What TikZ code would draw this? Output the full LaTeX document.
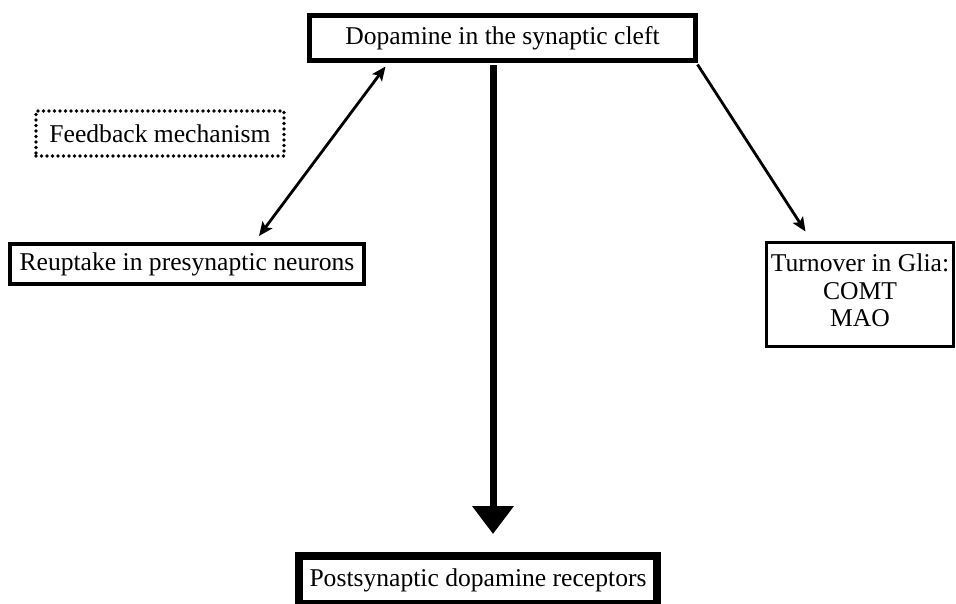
\documentclass[tikz,border=0pt]{standalone}
\usepackage{fontspec}
\setmainfont{Liberation Serif}
\usetikzlibrary{arrows.meta,calc}
\tikzset{
  box/.style={draw=black, rectangle, inner sep=0pt, align=center,
    font=\fontsize{25.6}{27.5}\selectfont},
  thin arrow/.style={line width=2.8pt, draw=black},
  tipS/.tip={Stealth[length=14pt,width=12pt,inset=3pt]}
}
\begin{document}
\begin{tikzpicture}[x=1pt,y=-1pt]
\useasboundingbox (0,0) rectangle (956,603);
\node[box, line width=5pt, minimum width=386pt, minimum height=45pt] (top) at (502.5,38) {Dopamine in the synaptic cleft};
\node[box, line width=3.6pt, dash pattern=on 0pt off 5.5pt, line cap=round, minimum width=248pt, minimum height=45pt] (fb) at (160,133.5) {Feedback mechanism};
\node[box, line width=4pt, minimum width=354pt, minimum height=40pt] (reup) at (187,264) {Reuptake in presynaptic neurons};
\node[box, line width=3pt, minimum width=187pt, minimum height=104pt, text depth=8pt] (turn) at (860,294.5) {Turnover in Glia:\\COMT\\MAO};
\node[box, line width=8pt, minimum width=358pt, minimum height=48pt] (post) at (478,580) {Postsynaptic dopamine receptors};
\draw[thin arrow, tipS-tipS] ($(top.south west)+(78.5,3.5)$) -- ($(reup.north west)+(251,-6)$);
\draw[thin arrow, -tipS] ($(top.south east)+(-0.5,1.5)$) -- ($(turn.north west)+(40.5,-9.5)$);
\draw[line width=7pt, -{Triangle[length=28pt,width=40pt]}] ($(top.south)+(-9.5,2)$) -- ($(post.north)+(15,-18)$);
\end{tikzpicture}
\end{document}
